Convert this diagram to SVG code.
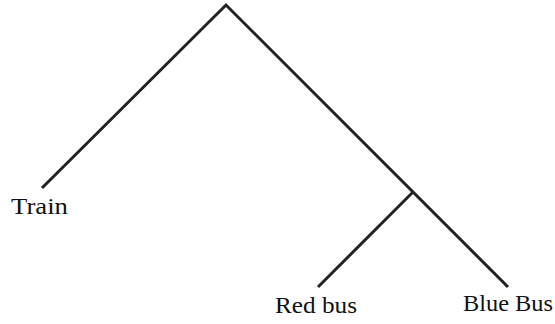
<svg xmlns="http://www.w3.org/2000/svg" width="555" height="324" viewBox="0 0 555 324">
<style>
.e{stroke:#222;stroke-width:3;fill:none;stroke-linecap:butt}
.t{font-family:"Liberation Serif","DejaVu Serif",serif;font-size:24px;fill:#111}
</style>
<rect width="555" height="324" fill="#fff"/>
<g id="connectors">
<polyline class="e" points="42,188 226,5 508,287"/>
<line class="e" x1="413" y1="192" x2="318" y2="287"/>
</g>
<g id="train"><text class="t" x="11" y="214" textLength="57" lengthAdjust="spacingAndGlyphs">Train</text></g>
<g id="redbus"><text class="t" x="275" y="313" textLength="82" lengthAdjust="spacingAndGlyphs">Red bus</text></g>
<g id="bluebus"><text class="t" x="463" y="311" textLength="90" lengthAdjust="spacingAndGlyphs">Blue Bus</text></g>
</svg>
